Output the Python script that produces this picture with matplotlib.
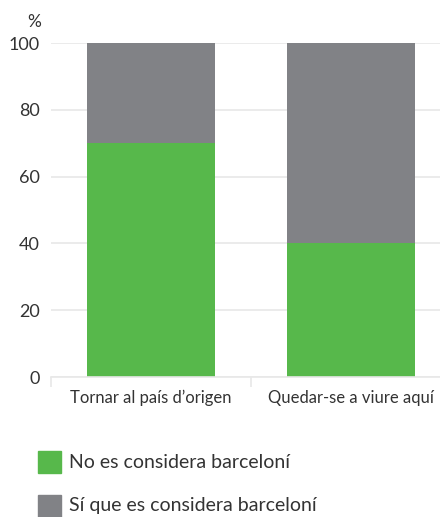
import matplotlib
matplotlib.use("Agg")
import matplotlib.pyplot as plt
from matplotlib.patches import Rectangle

categories = ["Tornar al país d’origen", "Quedar-se a viure aquí"]
no_es = [70, 40]
si_es = [30, 60]
series_labels = ["No es considera barceloní", "Sí que es considera barceloní"]

GREEN, GREY, TEXT, GRID = "#57b84b", "#818286", "#333333", "#e8e8e8"

plt.rcParams["font.family"] = ["Lato", "DejaVu Sans"]

W, H = 440, 517
fig = plt.figure(figsize=(W / 100, H / 100), dpi=100)
ax = fig.add_axes([51 / W, 140 / H, 400 / W, 334 / H])

x = list(range(len(categories)))
ax.bar(x, no_es, width=0.64, color=GREEN, zorder=2)
ax.bar(x, si_es, width=0.64, bottom=no_es, color=GREY, zorder=2)

ax.set_xlim(-0.5, 1.5)
ax.set_ylim(0, 100)
ax.set_yticks(range(0, 101, 20))
ax.yaxis.grid(True, color=GRID, lw=1.2, zorder=0)
for s in ["top", "right", "left"]:
    ax.spines[s].set_visible(False)
ax.spines["bottom"].set_color(GRID)
ax.spines["bottom"].set_linewidth(1.2)

ax.tick_params(axis="y", length=0, pad=8, labelsize=13, labelcolor=TEXT)
ax.set_xticks(x)
ax.set_xticklabels(categories)
ax.tick_params(axis="x", which="major", length=0, pad=9, labelsize=12,
               labelcolor=TEXT)
ax.set_xticks([-0.5, 0.5, 1.5], minor=True)
ax.tick_params(axis="x", which="minor", length=7, width=1.2, color=GRID)

fig.text(34 / W, 1 - 22 / H, "%", fontsize=12.5, color=TEXT,
         ha="center", va="center")

# legend below the chart
for i, (lab, col) in enumerate(zip(series_labels, [GREEN, GREY])):
    yc = 462 + 44 * i
    fig.add_artist(Rectangle((38 / W, 1 - (yc + 11) / H), 23 / W, 22 / H,
                             transform=fig.transFigure, color=col))
    fig.text(69 / W, 1 - yc / H, lab, fontsize=14, color=TEXT,
             ha="left", va="center")

fig.savefig("out.png", dpi=100)
